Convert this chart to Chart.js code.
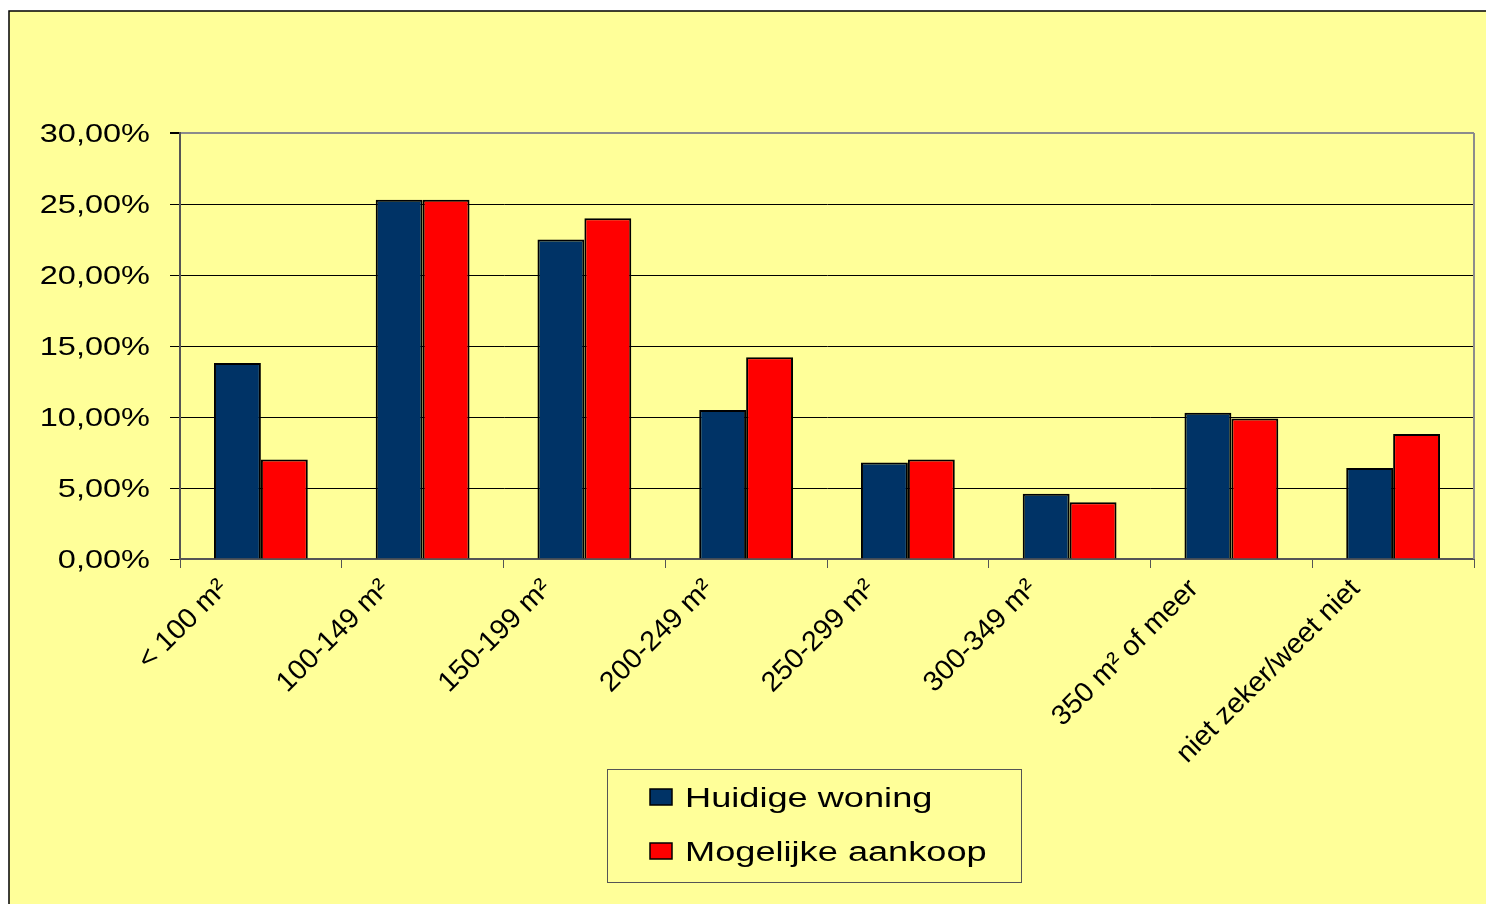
<!DOCTYPE html>
<html>
<head>
<meta charset="utf-8">
<script src="https://cdn.jsdelivr.net/npm/chart.js@4.4.1/dist/chart.umd.min.js"></script>
<style>
  body { margin: 0; background: #fff; }
  #wrap { width: 1486px; height: 904px; position: relative; }
</style>
</head>
<body>
<div id="wrap"><canvas id="woningChart"></canvas></div>
<script>
// data
const categories = ['< 100 m²', '100-149 m²', '150-199 m²', '200-249 m²', '250-299 m²', '300-349 m²', '350 m² of meer', 'niet zeker/weet niet']
const huidigeWoning = [13.8, 25.3, 22.5, 10.5, 6.8, 4.6, 10.3, 6.4]
const mogelijkeAankoop = [7.0, 25.3, 24.0, 14.2, 7.0, 4.0, 9.9, 8.8]
const yTicks = [0, 5, 10, 15, 20, 25, 30]

const FONT = '"Liberation Sans", Arial, sans-serif'

const formatPct = (v) => v.toFixed(2).replace('.', ',') + '%'

// Excel text looks wider than Arial, so stretch it a bit
const drawStretched = (ctx, text, x, y, opts) => {
  ctx.save()
  ctx.translate(x, y)
  ctx.rotate(opts.angle || 0)
  ctx.scale(opts.sx || 1, 1)
  ctx.font = opts.size + 'px ' + FONT
  ctx.fillStyle = '#000'
  ctx.textAlign = opts.align || 'left'
  ctx.textBaseline = 'alphabetic'
  ctx.fillText(text, 0, 0)
  ctx.restore()
}

const excelFrame = {
  id: 'excelFrame',
  beforeDraw(chart) {
    const { ctx, width, height } = chart
    ctx.save()
    ctx.fillStyle = '#ffffff'
    ctx.fillRect(0, 0, width, height)
    ctx.fillStyle = '#ffff99'
    ctx.fillRect(9, 11, width - 9, height - 11)
    ctx.strokeStyle = '#000'
    ctx.lineWidth = 1.5
    ctx.beginPath()
    ctx.moveTo(9, height)
    ctx.lineTo(9, 11)
    ctx.lineTo(width, 11)
    ctx.stroke()
    ctx.restore()
  },
  afterDraw(chart) {
    const { ctx, chartArea } = chart
    const xScale = chart.scales.x
    const yScale = chart.scales.y

    // plot area right border
    ctx.save()
    ctx.strokeStyle = '#8c8c8c'
    ctx.lineWidth = 2
    ctx.beginPath()
    ctx.moveTo(chartArea.right, chartArea.top)
    ctx.lineTo(chartArea.right, chartArea.bottom)
    ctx.stroke()
    ctx.restore()

    // y labels
    yTicks.forEach((v) => {
      const y = yScale.getPixelForValue(v)
      drawStretched(ctx, formatPct(v), 150, y + 9, { size: 26, sx: 1.25, align: 'right' })
    })

    // x labels, rotated 45 degrees
    categories.forEach((label, i) => {
      const x = xScale.getPixelForTick(i)
      drawStretched(ctx, label, x - 32, chartArea.bottom + 31, { size: 28, sx: 1.02, align: 'right', angle: -Math.PI / 4 })
    })

    // legend
    ctx.save()
    ctx.strokeStyle = '#555'
    ctx.lineWidth = 1
    ctx.strokeRect(607.5, 769.5, 414, 113)
    chart.data.datasets.forEach((ds, i) => {
      const top = 789 + i * 54
      ctx.fillStyle = ds.backgroundColor
      ctx.fillRect(650, top, 22, 16)
      ctx.strokeStyle = '#000'
      ctx.lineWidth = 1.5
      ctx.strokeRect(650, top, 22, 16)
      drawStretched(ctx, ds.label, 685, top + 18, { size: 27, sx: 1.34 })
    })
    ctx.restore()
  },
}

const ctx = document.getElementById('woningChart').getContext('2d')

new Chart(ctx, {
  type: 'bar',
  data: {
    labels: categories,
    datasets: [
      {
        label: 'Huidige woning',
        data: huidigeWoning,
        backgroundColor: '#003366',
        borderColor: '#000',
        borderWidth: 2,
        categoryPercentage: 0.58,
        barPercentage: 1,
      },
      {
        label: 'Mogelijke aankoop',
        data: mogelijkeAankoop,
        backgroundColor: '#ff0000',
        borderColor: '#000',
        borderWidth: 2,
        categoryPercentage: 0.58,
        barPercentage: 1,
      },
    ],
  },
  options: {
    responsive: true,
    maintainAspectRatio: false,
    animation: false,
    devicePixelRatio: 1,
    layout: { padding: { top: 133, right: 12, left: 0, bottom: 0 } },
    plugins: {
      legend: { display: false },
      tooltip: { enabled: false },
    },
    scales: {
      x: {
        afterFit: (scale) => { scale.height = 345 },
        ticks: { display: false },
        grid: {
          offset: true,
          drawOnChartArea: false,
          drawTicks: true,
          tickLength: 9,
          color: '#555',
          lineWidth: 1,
        },
        border: { color: '#555', width: 2 },
      },
      y: {
        min: 0,
        max: 30,
        afterFit: (scale) => { scale.width = 180 },
        ticks: { display: false, stepSize: 5 },
        grid: {
          color: (c) => (c.tick && c.tick.value === 30 ? '#8c8c8c' : '#000'),
          lineWidth: (c) => (c.tick && c.tick.value === 30 ? 2 : 1),
          tickLength: 10,
          tickColor: '#000',
        },
        border: { color: '#555', width: 2 },
      },
    },
  },
  plugins: [excelFrame],
})
</script>
</body>
</html>
